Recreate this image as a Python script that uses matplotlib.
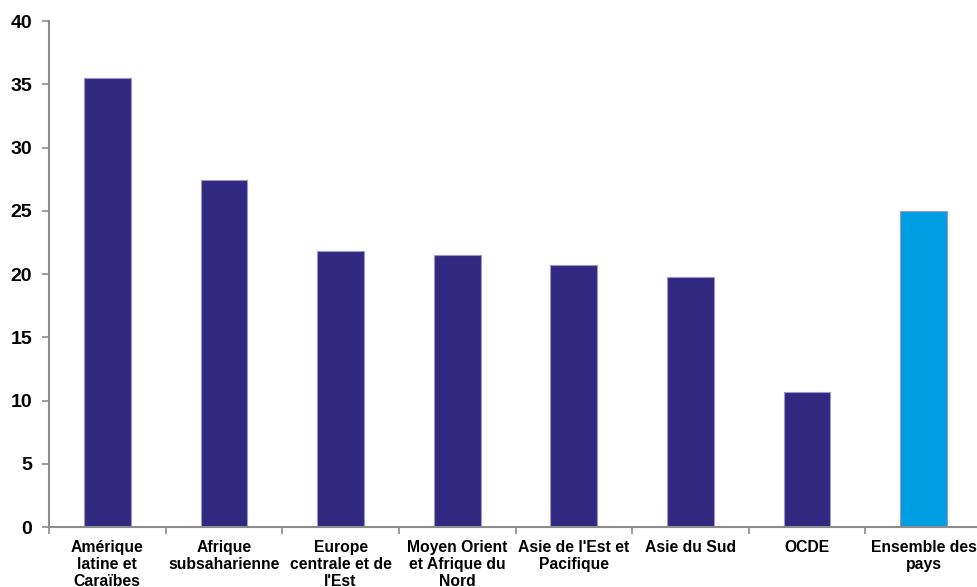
import matplotlib
matplotlib.use('Agg')
from matplotlib import pyplot as plt
import numpy as np

plt.rcParams['font.family'] = ['Liberation Sans', 'DejaVu Sans']
plt.rcParams['font.weight'] = 'bold'

categories = ['Amérique\nlatine et\nCaraïbes', 'Afrique\nsubsaharienne', 'Europe\ncentrale et de\nl\'Est',
              'Moyen Orient\net Afrique du\nNord', 'Asie de l\'Est et\nPacifique', 'Asie du Sud',
              'OCDE', 'Ensemble des\npays']
values = [35.5, 27.4, 21.8, 21.5, 20.7, 19.8, 10.7, 25.0]
colors = ['#32287f'] * 7 + ['#009fe3']

fig = plt.figure(figsize=(9.78, 5.87), dpi=100)
ax = fig.add_axes([0.0501, 0.1022, 0.954, 0.862])

x = np.arange(len(values))
ax.bar(x, values, width=0.4, color=colors, edgecolor='#9c97c8', linewidth=0.8, zorder=2)

ax.set_xlim(-0.5, len(values) - 0.5)
ax.set_ylim(0, 40)
ax.set_yticks(range(0, 41, 5))
ax.set_xticks(x)
ax.set_xticklabels(categories, fontsize=11.3, fontweight='bold', linespacing=1.15)
ax.set_xticks(np.arange(-0.5, len(values), 1), minor=True)
ax.tick_params(axis='x', which='major', length=0, pad=9.5)
ax.tick_params(axis='x', which='minor', length=5, color='#8c8c8c', width=1.2, direction='out')
ax.tick_params(axis='y', length=5, color='#8c8c8c', width=1.2, labelsize=14, pad=7)
for lbl in ax.get_yticklabels():
    lbl.set_fontweight('bold')

for s in ['top', 'right']:
    ax.spines[s].set_visible(False)
for s in ['left', 'bottom']:
    ax.spines[s].set_color('#8c8c8c')
    ax.spines[s].set_linewidth(1.5)

fig.savefig('out.png', dpi=100)
